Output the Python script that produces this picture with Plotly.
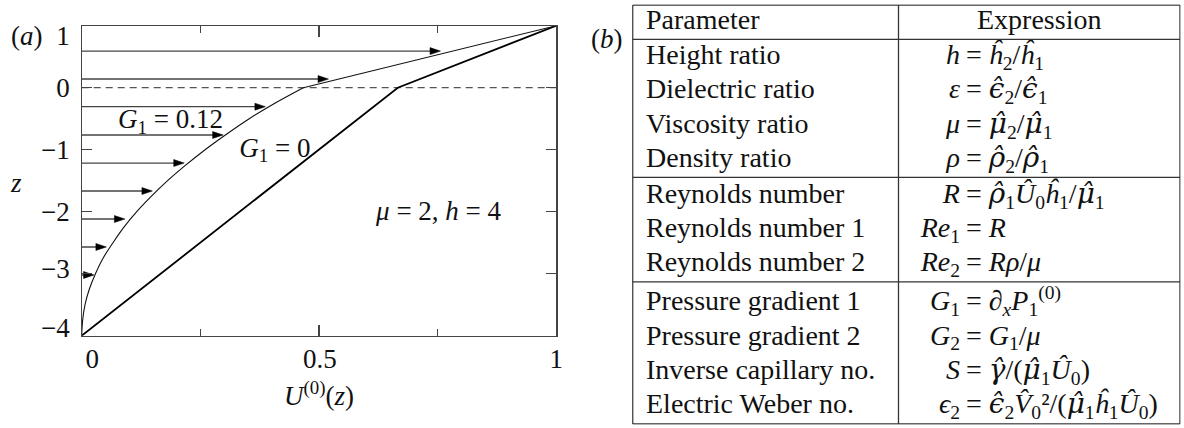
import plotly.graph_objects as go

# ---------------- data: panel (a) ----------------
# G1 = 0 velocity profile (piecewise linear)
u_g0 = [0.0, 0.666, 1.0]
z_g0 = [-4.0, 0.0, 1.0]

# G1 = 0.12 velocity profile, lower layer (curved) and upper layer (straight)
u_g12_lower = [0.0, 0.002, 0.007, 0.016, 0.029, 0.045, 0.066, 0.089, 0.116,
               0.147, 0.181, 0.219, 0.260, 0.305, 0.353, 0.407, 0.467]
z_g12_lower = [-4.0, -3.75, -3.5, -3.25, -3.0, -2.75, -2.5, -2.25, -2.0,
               -1.75, -1.5, -1.25, -1.0, -0.75, -0.5, -0.25, 0.0]
u_g12_upper = [0.467, 1.0]
z_g12_upper = [0.0, 1.0]

# velocity arrows (G1 = 0.12)
arrow_z = [0.59, 0.14, -0.306, -0.763, -1.215, -1.666, -2.118, -2.569, -3.021]
arrow_u = [0.756, 0.520, 0.387, 0.298, 0.216, 0.149, 0.091, 0.052, 0.026]

interface_z = 0.0

x_tick_vals = [0, 0.5, 1]
x_minor_vals = [0.25, 0.75]
x_tick_text = ["0", "0.5", "1"]
y_tick_vals = [-4, -3, -2, -1, 0, 1]
y_tick_text = ["\u22124", "\u22123", "\u22122", "\u22121", "0", "1"]

# ---------------- data: panel (b) table ----------------
header = ["Parameter", "Expression"]
group_sizes = [4, 3, 4]
params = ["Height ratio", "Dielectric ratio", "Viscosity ratio", "Density ratio",
          "Reynolds number", "Reynolds number 1", "Reynolds number 2",
          "Pressure gradient 1", "Pressure gradient 2", "Inverse capillary no.",
          "Electric Weber no."]


def hat(ch):
    # hatted Greek letter drawn with a font that positions combining marks well
    return ("<span style='font-family:DejaVu Serif'><i>" + ch + "\u0302</i></span>")


expr_lhs = ["<i>h</i>", "<i>\u03b5</i>", "<i>\u03bc</i>", "<i>\u03c1</i>",
            "<i>R</i>", "<i>Re</i><sub>1</sub>", "<i>Re</i><sub>2</sub>",
            "<i>G</i><sub>1</sub>", "<i>G</i><sub>2</sub>", "<i>S</i>",
            "<i>\u03f5</i><sub>2</sub>"]
expr_rhs = [
    "= <i>\u0125</i><sub>2</sub>/<i>\u0125</i><sub>1</sub>",
    "= " + hat("\u03f5") + "<sub>2</sub>/" + hat("\u03f5") + "<sub>1</sub>",
    "= " + hat("\u03bc") + "<sub>2</sub>/" + hat("\u03bc") + "<sub>1</sub>",
    "= " + hat("\u03c1") + "<sub>2</sub>/" + hat("\u03c1") + "<sub>1</sub>",
    "= " + hat("\u03c1") + "<sub>1</sub><i>\u00db</i><sub>0</sub><i>\u0125</i><sub>1</sub>/"
    + hat("\u03bc") + "<sub>1</sub>",
    "= <i>R</i>",
    "= <i>R\u03c1</i>/<i>\u03bc</i>",
    "= \u2202<sub><i>x</i></sub><i>P</i><sub>1</sub><sup>(0)</sup>",
    "= <i>G</i><sub>1</sub>/<i>\u03bc</i>",
    "= " + hat("\u03b3") + "/(" + hat("\u03bc") + "<sub>1</sub><i>\u00db</i><sub>0</sub>)",
    "= " + hat("\u03f5") + "<sub>2</sub><i>V\u0302</i><sub>0</sub>\u00b2/("
    + hat("\u03bc") + "<sub>1</sub><i>\u0125</i><sub>1</sub><i>\u00db</i><sub>0</sub>)",
]

# ---------------- layout constants ----------------
W, HGT = 1184, 428
FONT = "Liberation Serif, Times New Roman, DejaVu Serif, serif"
TXT = "#111111"
FRAME = "#444444"

pl, pr, pt, pb = 81.7, 556.3, 25.7, 335.7   # plot frame in px
xdom = [pl / W, pr / W]
ydom = [1 - pb / HGT, 1 - pt / HGT]
plot_w = pr - pl
plot_h = pb - pt

fig = go.Figure()

# dashed interface line
fig.add_trace(go.Scatter(x=[0, 1], y=[interface_z, interface_z], mode="lines",
                         line=dict(color="#555555", width=1.2, dash="7px,5px"),
                         hoverinfo="skip", showlegend=False))
# G1 = 0 profile
fig.add_trace(go.Scatter(x=u_g0, y=z_g0, mode="lines",
                         line=dict(color="#000000", width=1.8),
                         hoverinfo="skip", showlegend=False))
# G1 = 0.12 profile
fig.add_trace(go.Scatter(x=u_g12_lower, y=z_g12_lower, mode="lines",
                         line=dict(color="#111111", width=1.1, shape="spline", smoothing=1.0),
                         hoverinfo="skip", showlegend=False))
fig.add_trace(go.Scatter(x=u_g12_upper, y=z_g12_upper, mode="lines",
                         line=dict(color="#111111", width=1.1),
                         hoverinfo="skip", showlegend=False))

# arrows: shafts and heads
head_len = 10.5 / plot_w          # in data units of U
head_half = 3.5 / (plot_h / 5.0)  # in data units of z
sx, sy, hx, hy = [], [], [], []
for u, z in zip(arrow_u, arrow_z):
    sx += [0, u - head_len * 0.5, None]
    sy += [z, z, None]
    hx += [u, u - head_len, u - head_len, u, None]
    hy += [z, z + head_half, z - head_half, z, None]
fig.add_trace(go.Scatter(x=sx, y=sy, mode="lines",
                         line=dict(color="#444444", width=1.3),
                         hoverinfo="skip", showlegend=False))
fig.add_trace(go.Scatter(x=hx, y=hy, mode="lines", fill="toself",
                         fillcolor="#000000", line=dict(color="#000000", width=0.5),
                         hoverinfo="skip", showlegend=False))

# in-plot labels
fig.add_trace(go.Scatter(
    x=[0.187, 0.407, 0.752], y=[-0.548, -1.005, -2.026], mode="text",
    text=["<i>G</i><sub>1</sub> = 0.12", "<i>G</i><sub>1</sub> = 0",
          "<i>\u03bc</i> = 2, <i>h</i> = 4"],
    textposition="middle center", textfont=dict(family=FONT, size=27, color=TXT),
    hoverinfo="skip", showlegend=False, cliponaxis=False))

# empty trace so the label-only overlay axes get their own subplot
fig.add_trace(go.Scatter(x=[], y=[], xaxis="x2", yaxis="y2", showlegend=False))

# ---------------- table (panel b) ----------------
tl, tr_, tt, tb = 632.7, 1180.0, 5.0, 424.0
col_div = 898.5
hdr_sep = 39.3
group_first_off = [18.0, 18.7, 21.6]
row_step = 34.2
last_off = 17.4

row_y = []
seps = []
cur = hdr_sep
for g, n in enumerate(group_sizes):
    ys = [cur + group_first_off[g] + row_step * i for i in range(n)]
    row_y += ys
    cur = ys[-1] + last_off
    if g < len(group_sizes) - 1:
        seps.append(cur)

eq_x = 966.0
param_x = 646.0

tx = [param_x, (col_div + tr_) / 2]
ty = [21.7, 21.7]
tt_ = header[:]
tpos = ["middle right", "middle center"]
for i, p in enumerate(params):
    tx += [param_x, eq_x - 6, eq_x]
    ty += [row_y[i]] * 3
    tt_ += [p, expr_lhs[i], expr_rhs[i]]
    tpos += ["middle right", "middle left", "middle right"]

fig.add_trace(go.Scatter(x=tx, y=ty, text=tt_, mode="text", textposition=tpos,
                         textfont=dict(family=FONT, size=28, color=TXT),
                         xaxis="x3", yaxis="y3", hoverinfo="skip",
                         showlegend=False, cliponaxis=False))

shapes = []
lc = dict(color="#333333", width=1.3)
for x0, y0, x1, y1 in [(tl, tt, tr_, tt), (tl, tb, tr_, tb), (tl, tt, tl, tb),
                       (tr_, tt, tr_, tb), (col_div, tt, col_div, tb),
                       (tl, hdr_sep, tr_, hdr_sep)] + [(tl, s, tr_, s) for s in seps]:
    shapes.append(dict(type="line", xref="x3", yref="y3", x0=x0, y0=y0, x1=x1, y1=y1,
                       line=lc, layer="above"))

tickfont = dict(family=FONT, size=27, color=TXT)

annotations = [
    dict(text="(<i>a</i>)", x=26.5 / W, y=1 - 36 / HGT, xref="paper", yref="paper",
         showarrow=False, font=tickfont, xanchor="center", yanchor="middle"),
    dict(text="(<i>b</i>)", x=606.5 / W, y=1 - 39 / HGT, xref="paper", yref="paper",
         showarrow=False, font=tickfont, xanchor="center", yanchor="middle"),
    # y-axis title, upright like the original
    dict(text="<i>z</i>", x=15.5 / W, y=1 - 182.7 / HGT, xref="paper", yref="paper",
         showarrow=False, font=tickfont, xanchor="center", yanchor="middle"),
]

fig.update_layout(
    width=W, height=HGT, autosize=False,
    margin=dict(l=0, r=0, t=0, b=0, pad=0, autoexpand=False),
    paper_bgcolor="white", plot_bgcolor="rgba(0,0,0,0)",
    showlegend=False,
    xaxis=dict(domain=xdom, range=[0, 1], anchor="y", showline=True, mirror="ticks",
               linecolor=FRAME, linewidth=1.2, ticks="inside", tickvals=x_tick_vals,
               ticklen=11, tickwidth=1.2, tickcolor=FRAME, showticklabels=False,
               showgrid=False, zeroline=False, automargin=False,
               minor=dict(tickvals=x_minor_vals, ticks="inside", ticklen=7,
                          tickwidth=1.2, tickcolor=FRAME, showgrid=False)),
    yaxis=dict(domain=ydom, range=[-4, 1], anchor="x", showline=True, mirror="ticks",
               linecolor=FRAME, linewidth=1.2, ticks="inside", tickvals=y_tick_vals,
               ticklen=10, tickwidth=1.2, tickcolor=FRAME, showticklabels=False,
               showgrid=False, zeroline=False, automargin=False),
    # label-only overlay axes (tick labels nudged like the original typesetting)
    xaxis2=dict(overlaying="x", anchor="y2", range=[0, 1], showline=False, ticks="",
                tickvals=[0.022, 0.502, 1.0], ticktext=x_tick_text, tickfont=tickfont,
                showgrid=False, zeroline=False, side="bottom", ticklabelstandoff=4,
                automargin=False,
                title=dict(text="<i>U</i><sup>(0)</sup>(<i>z</i>)", font=tickfont,
                           standoff=13)),
    yaxis2=dict(overlaying="y", anchor="x2", range=[-4, 1], showline=False, ticks="",
                tickvals=[-3.876, -2.92, -2, -1, 0, 0.834], ticktext=y_tick_text,
                tickfont=tickfont, showgrid=False, zeroline=False, side="left",
                ticklabelstandoff=11, automargin=False),
    xaxis3=dict(domain=[tl / W - 0.0005, tr_ / W + 0.0005], range=[tl - 0.6, tr_ + 0.6],
                visible=False, anchor="y3", fixedrange=True, automargin=False),
    yaxis3=dict(domain=[1 - (tb + 0.6) / HGT, 1 - (tt - 0.6) / HGT],
                range=[tb + 0.6, tt - 0.6], visible=False, anchor="x3", fixedrange=True,
                automargin=False),
    shapes=shapes,
    annotations=annotations,
)

# remove the browser's default 8px page margin so the figure sits at the window origin
fig.write_html(
    "out.html",
    config={"displayModeBar": False, "staticPlot": True},
    post_script="document.body.style.margin='0px';document.body.style.padding='0px';"
                "document.body.style.overflow='hidden';",
)
